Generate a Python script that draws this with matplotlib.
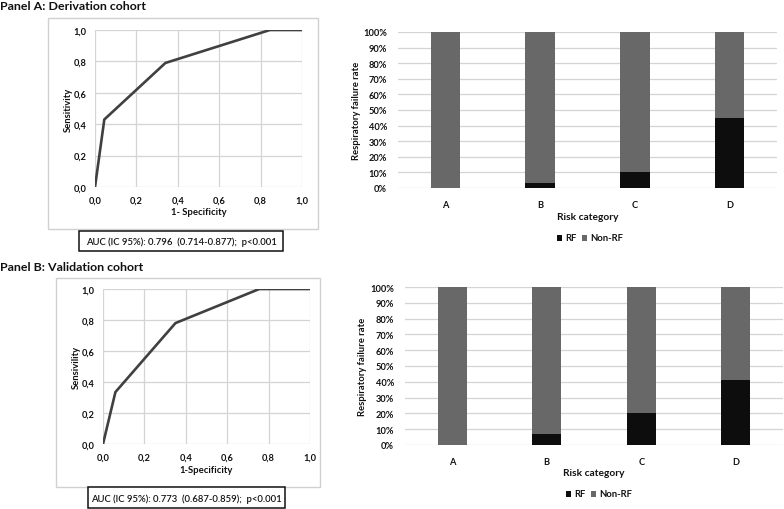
import matplotlib
matplotlib.use("Agg")
import matplotlib.pyplot as plt
from matplotlib.patches import Rectangle

plt.rcParams['font.family'] = ['Lato', 'DejaVu Sans']

# ---------------- data ----------------
roc_ticks = [0.0, 0.2, 0.4, 0.6, 0.8, 1.0]
roc_ticklabels = ["0,0", "0,2", "0,4", "0,6", "0,8", "1,0"]

derivation_fpr = [0.0, 0.045, 0.34, 0.845, 1.0]
derivation_tpr = [0.0, 0.43, 0.79, 1.0, 1.0]
validation_fpr = [0.0, 0.06, 0.35, 0.755, 1.0]
validation_tpr = [0.0, 0.335, 0.78, 1.0, 1.0]

categories = ["A", "B", "C", "D"]
derivation_rf = [0.0, 3.5, 10.0, 45.0]
derivation_nonrf = [100.0, 96.5, 90.0, 55.0]
validation_rf = [0.0, 7.2, 20.0, 41.0]
validation_nonrf = [100.0, 92.8, 80.0, 59.0]
pct_ticks = [0, 10, 20, 30, 40, 50, 60, 70, 80, 90, 100]
pct_labels = ["0%", "10%", "20%", "30%", "40%", "50%", "60%", "70%", "80%", "90%", "100%"]

auc_a = "AUC (IC 95%): 0.796  (0.714-0.877);  p<0.001"
auc_b = "AUC (IC 95%): 0.773  (0.687-0.859);  p<0.001"

# ---------------- layout helpers ----------------
W, H = 784, 510
fig = plt.figure(figsize=(W / 100, H / 100), dpi=100)
fig.patch.set_facecolor("white")

bg = fig.add_axes([0, 0, 1, 1], zorder=-5)
bg.set_xlim(0, W)
bg.set_ylim(H, 0)
bg.axis("off")


def ax_px(l, t, r, b):
    return fig.add_axes([l / W, 1 - b / H, (r - l) / W, (b - t) / H])


def box(l, t, r, b, ec, lw=1.0, z=0):
    bg.add_patch(Rectangle((l, t), r - l, b - t, fill=True, fc="white",
                           ec=ec, lw=lw, zorder=z))


GRID = "#d4d4d4"
TXT = "#111111"
TICKFS = 6.7


def roc(axpos, fpr, tpr, xlabel, ylabel, frame, aucbox, auctext, xlab_y, ylab_x):
    box(*frame, ec="#d0d0d0", lw=1.0)
    ax = ax_px(*axpos)
    ax.set_facecolor("none")
    ax.plot(fpr, tpr, color="#404040", lw=1.9, solid_capstyle="butt", zorder=3)
    ax.set_xlim(0, 1)
    ax.set_ylim(0, 1)
    ax.set_xticks(roc_ticks)
    ax.set_yticks(roc_ticks)
    ax.set_xticklabels(roc_ticklabels, fontsize=TICKFS, fontweight="bold", color=TXT)
    ax.set_yticklabels(roc_ticklabels, fontsize=TICKFS, fontweight="bold", color=TXT)
    ax.tick_params(length=0, pad=6)
    ax.grid(True, color=GRID, lw=0.9)
    ax.set_axisbelow(True)
    for s in ax.spines.values():
        s.set_visible(False)
    l, t, r, b = axpos
    bg.text((l + r) / 2, xlab_y, xlabel, ha="center", va="center",
            fontsize=6.8, fontweight="bold", color=TXT)
    bg.text(ylab_x, (t + b) / 2, ylabel, ha="center", va="center",
            rotation=90, fontsize=6.8, fontweight="bold", color=TXT)
    box(*aucbox, ec="#111111", lw=1.1, z=2)
    al, at, ar, ab = aucbox
    bg.text((al + ar) / 2, (at + ab) / 2 + 0.5, auctext, ha="center", va="center",
            fontsize=6.8, fontweight="semibold", color=TXT, zorder=3)


def bars(axpos, rf, nonrf, xlab_y, ylab_x, leg_y, leg_x):
    ax = ax_px(*axpos)
    x = list(range(len(categories)))
    ax.bar(x, rf, width=0.31, color="#0d0d0d", zorder=3)
    ax.bar(x, nonrf, bottom=rf, width=0.31, color="#686868", zorder=3)
    ax.set_xlim(-0.5, len(categories) - 0.5)
    ax.set_ylim(0, 100)
    ax.set_yticks(pct_ticks)
    ax.set_yticklabels(pct_labels, fontsize=TICKFS, fontweight="bold", color=TXT)
    ax.set_xticks(x)
    ax.set_xticklabels(categories, fontsize=TICKFS, fontweight="bold", color=TXT)
    ax.tick_params(length=0)
    ax.tick_params(axis="y", pad=8)
    ax.tick_params(axis="x", pad=9)
    ax.yaxis.grid(True, color=GRID, lw=0.9)
    ax.set_axisbelow(True)
    for s in ax.spines.values():
        s.set_visible(False)
    l, t, r, b = axpos
    bg.text((l + r) / 2, xlab_y, "Risk category", ha="center", va="center",
            fontsize=7.3, fontweight="bold", color=TXT)
    bg.text(ylab_x, (t + b) / 2, "Respiratory failure rate", ha="center",
            va="center", rotation=90, fontsize=6.8, fontweight="bold", color=TXT)
    # legend
    sq = 5.5
    bg.add_patch(Rectangle((leg_x, leg_y - sq / 2), sq, sq, fc="#0d0d0d", ec="none"))
    bg.text(leg_x + sq + 3, leg_y, "RF", ha="left", va="center",
            fontsize=6.8, fontweight="bold", color=TXT)
    bg.add_patch(Rectangle((leg_x + 25, leg_y - sq / 2), sq, sq, fc="#686868", ec="none"))
    bg.text(leg_x + 25 + sq + 3, leg_y, "Non-RF", ha="left", va="center",
            fontsize=6.8, fontweight="bold", color=TXT)


# Titles
bg.text(0, 6, "Panel A: Derivation cohort", ha="left", va="center",
        fontsize=8.9, fontweight="bold", color=TXT)
bg.text(0, 268, "Panel B: Validation cohort", ha="left", va="center",
        fontsize=8.9, fontweight="bold", color=TXT)

roc((95, 31, 302, 188), derivation_fpr, derivation_tpr, "1- Specificity", "Sensitivity",
    (48, 19, 318, 230), (79, 232, 283, 252), auc_a, 213, 68)
roc((103, 290, 310, 445), validation_fpr, validation_tpr, "1-Specificity", "Sensivility",
    (56, 279, 320, 488), (88, 488, 285, 509), auc_b, 471, 76)

bars((398, 33, 777, 189), derivation_rf, derivation_nonrf, 218, 357, 239, 557)
bars((405, 288, 783, 446), validation_rf, validation_nonrf, 474, 363, 495, 566)

fig.savefig("out.png", dpi=100, facecolor="white")
